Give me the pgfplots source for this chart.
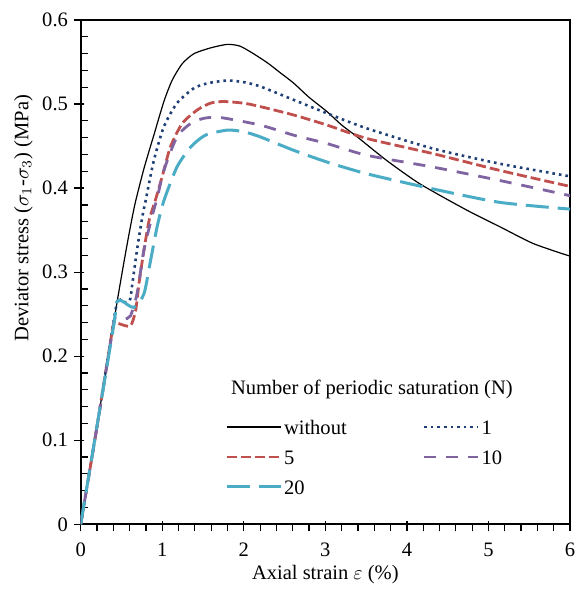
\documentclass[border=0pt]{standalone}
\usepackage{pgfplots}
\pgfplotsset{compat=1.18}
\usepackage{fontspec}
\setmainfont{Liberation Serif}

\definecolor{cNavy}{HTML}{203F76}
\definecolor{cRed}{HTML}{C0504D}
\definecolor{cPurple}{HTML}{8064A2}
\definecolor{cCyan}{HTML}{4BACC6}

\begin{document}
\fontsize{10.3}{12.4}\selectfont
\begin{tikzpicture}
\begin{axis}[
  scale only axis,
  width=244.65bp, height=252.15bp,
  xmin=0, xmax=6, ymin=0, ymax=0.6,
  xtick={0,1,...,6},
  ytick={0,0.1,...,0.6},
  minor x tick num=4,
  minor y tick num=4,
  xtick pos=left, ytick pos=left,
  axis line style={line width=1bp},
  tick style={black, line width=0.6bp},
  tick align=inside,
  major tick length=5bp,
  minor tick length=3.5bp,
  every major y tick/.style={xshift=-3.5bp},
  every major x tick/.style={yshift=-3.5bp},
  every minor x tick/.style={yshift=-3.5bp},
  /pgf/number format/assume math mode=true,
  /pgf/number format/fixed,
  xticklabel style={anchor=base, inner sep=0pt, yshift=-16.2bp},
  yticklabel style={anchor=east, inner sep=0pt, xshift=-6.2bp},
  xlabel={Axial strain $\varepsilon$ (\%)},
  ylabel={Deviator stress ($\sigma_1$-$\sigma_3$) (MPa)},
  xlabel style={at={(axis description cs:0.5,-0.1104)}, anchor=base, inner sep=0pt},
  ylabel style={at={(axis description cs:-0.1071,0.607)}, anchor=base, inner sep=0pt},
  legend columns=2,
  legend cell align=left,
  legend style={draw=none, fill=none, inner sep=0pt, outer sep=0pt,
    at={(rel axis cs:0.2949,0.2128)}, anchor=north west,
    row sep=5bp,
    nodes={inner sep=0pt, text height=9bp, text depth=1bp},
    /tikz/every odd column/.append style={column sep=1bp},
    /tikz/every even column/.append style={column sep=38bp}},
  legend image code/.code={\draw[#1] (0bp,0bp) -- (27bp,0bp);},
]
% without
\addplot[black, line width=0.6bp, smooth, tension=0.4] coordinates {
  (0,0) (0.2,0.117) (0.449,0.266) (0.571,0.334) (0.663,0.38) (0.775,0.423)
  (0.9,0.464) (1.02,0.503) (1.12,0.528) (1.245,0.548) (1.39,0.56)
  (1.6,0.567) (1.8,0.571) (1.95,0.569) (2.1,0.561) (2.29,0.549)
  (2.45,0.537) (2.61,0.525) (2.8,0.508) (3.02,0.491) (3.2,0.475)
  (3.39,0.461) (3.75,0.433) (4.16,0.405) (4.73,0.374) (5.14,0.354)
  (5.55,0.334) (6,0.319)
};
\addlegendentry{without}
% 1
\addplot[cNavy, line width=1.3bp, dash pattern=on 1.3bp off 2bp, smooth, tension=0.4] coordinates {
  (0,0) (0.2,0.117) (0.44,0.262) (0.5,0.264) (0.6,0.266) (0.633,0.286)
  (0.69,0.326) (0.755,0.3655) (0.796,0.385) (0.897,0.433) (1.02,0.473)
  (1.18,0.501) (1.39,0.519) (1.57,0.525) (1.8,0.528) (2.0,0.526)
  (2.2,0.521) (2.61,0.505) (3.02,0.489) (3.51,0.471) (4.32,0.447)
  (5.14,0.429) (6,0.414)
};
\addlegendentry{1}
% 5
\addplot[cRed, line width=1.4bp, dash pattern=on 5bp off 2bp, smooth, tension=0.4] coordinates {
  (0,0) (0.2,0.116) (0.39,0.232) (0.42,0.24) (0.49,0.238) (0.61,0.236)
  (0.673,0.254) (0.714,0.286) (0.775,0.326) (0.84,0.362) (0.92,0.387)
  (1.0,0.414) (1.10,0.449) (1.245,0.477) (1.43,0.493) (1.59,0.501)
  (1.75,0.503) (2.0,0.501) (2.2,0.497) (2.61,0.487) (3.02,0.475)
  (3.51,0.459) (4.32,0.441) (5.14,0.421) (6,0.402)
};
\addlegendentry{5}
% 10
\addplot[cPurple, line width=1.4bp, dash pattern=on 6bp off 5bp, smooth, tension=0.4] coordinates {
  (0,0) (0.2,0.116) (0.40,0.236) (0.43,0.244) (0.53,0.244) (0.61,0.248)
  (0.69,0.274) (0.775,0.326) (0.877,0.367) (0.94,0.389) (1.02,0.421)
  (1.18,0.461) (1.35,0.477) (1.51,0.483) (1.71,0.484) (2.2,0.475)
  (2.61,0.463) (3.02,0.453) (3.51,0.439) (4.32,0.425) (5.14,0.409)
  (6,0.391)
};
\addlegendentry{10}
% 20
\addplot[cCyan, line width=1.5bp, dash pattern=on 11.5bp off 4.5bp, smooth, tension=0.4] coordinates {
  (0,0) (0.2,0.117) (0.41,0.24) (0.44,0.264) (0.5,0.266) (0.65,0.258)
  (0.775,0.274) (0.857,0.314) (0.937,0.354) (1.02,0.385) (1.18,0.425)
  (1.35,0.449) (1.53,0.463) (1.8,0.469) (2.0,0.467) (2.2,0.461)
  (2.61,0.445) (3.02,0.431) (3.51,0.417) (4.32,0.399) (5.14,0.383)
  (6,0.375)
};
\addlegendentry{20}
\node[anchor=base west, inner sep=0pt] at (rel axis cs:0.3066,0.2564)
  {Number of periodic saturation (N)};
\end{axis}
\pgfresetboundingbox
\path ([shift={(-40.35bp,-33.85bp)}]current axis.south west)
  rectangle ([shift={(5.5bp,10bp)}]current axis.north east);
\end{tikzpicture}
\end{document}
